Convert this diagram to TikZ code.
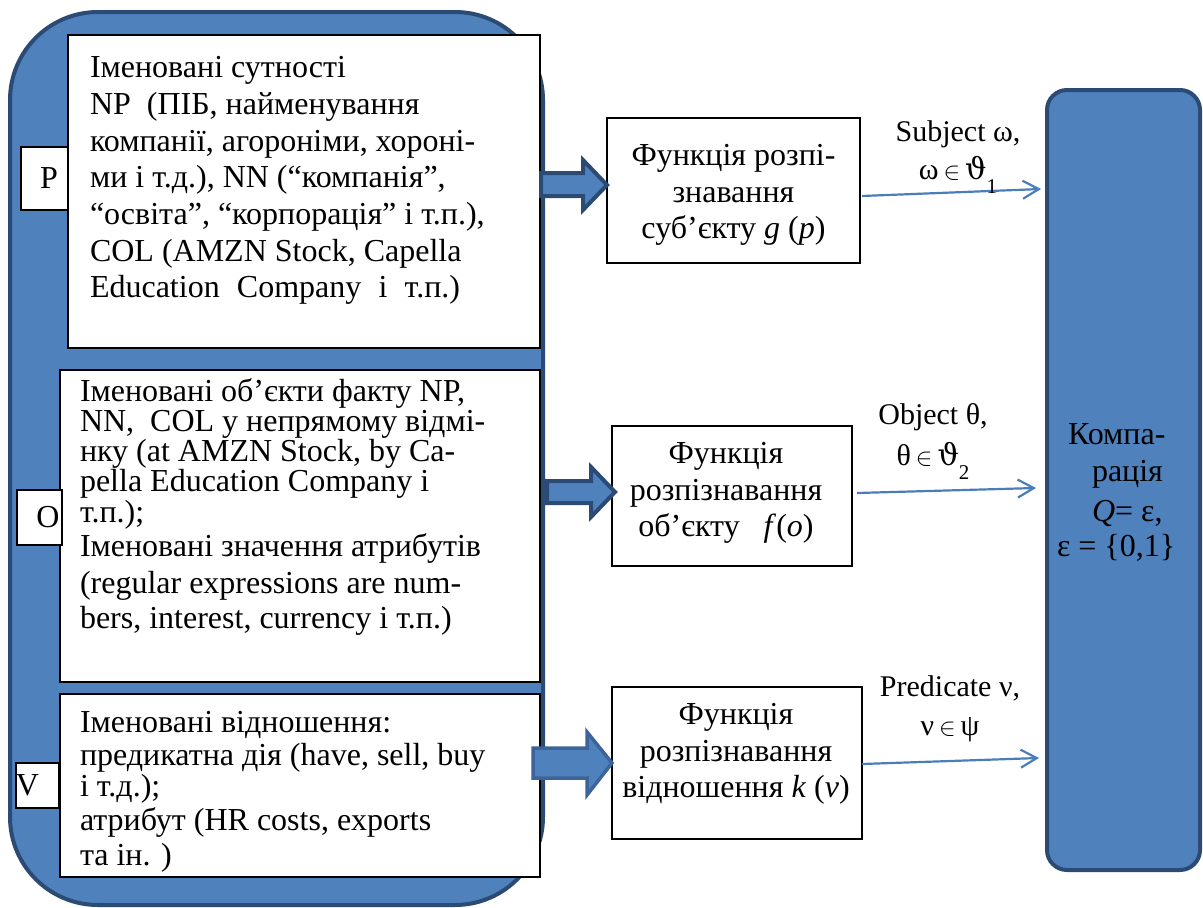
\documentclass[tikz,border=0pt]{standalone}
\usepackage{fontspec}
\setmainfont{Liberation Serif}
\newfontfamily\symf{DejaVu Serif}
\usetikzlibrary{arrows.meta}
\definecolor{bfill}{HTML}{4F81BD}
\definecolor{bline}{HTML}{2B4A74}
\definecolor{vline}{HTML}{3D649A}
\definecolor{aline}{HTML}{4A7EBB}
\begin{document}
\begin{tikzpicture}[x=1pt,y=-1pt,
  every node/.style={inner sep=0pt, outer sep=0pt},
  txt/.style={font=\fontsize{32}{36.7}\selectfont, align=left, anchor=north west},
  ctxt/.style={font=\fontsize{32}{36.5}\selectfont, align=center},
  wbox/.style={draw=black, line width=1.5pt, fill=white, anchor=north west},
  lab/.style={draw=black, line width=1.2pt, fill=white, font=\fontsize{32}{36}\selectfont},
  bigblue/.style={draw=bline, line width=4pt, fill=bfill, anchor=north west},
  blockarrow/.style={draw=bline, line width=4pt, fill=bfill, line join=miter},
  flow/.style={draw=aline, line width=2.2pt, -{Straight Barb[length=16pt,width=18pt]}},
  alab/.style={font=\fontsize{30}{38}\selectfont, align=center}
]
\useasboundingbox (0,0) rectangle (1203,908);

% big left container
\node[bigblue, rounded corners=88pt, minimum width=533pt, minimum height=893pt] (src) at (10,12) {};

% content boxes
\node[wbox, minimum width=472pt, minimum height=313pt] (pbox) at (68,35) {};
\node[wbox, minimum width=480pt, minimum height=312pt] (obox) at (60,370) {};
\node[wbox, minimum width=480pt, minimum height=183pt] (vbox) at (60,694) {};

% letter labels
\node[lab, minimum width=47pt, minimum height=63pt] (pl) at (44.5,178.5) {\hspace*{9pt}P};
\node[lab, minimum width=45pt, minimum height=55pt] (ol) at (39.5,517.5) {\hspace*{17pt}O};
\node[lab, minimum width=43pt, minimum height=45pt] (vl) at (37.5,785.5) {V\hspace*{20pt}};

% texts of content boxes
\node[txt] (ptext) at (90,52) {\strut Іменовані сутності\\
NP\ \ (ПІБ, найменування\\
компанії, агороніми, хороні-\\
ми і т.д.), NN (“компанія”,\\
“освіта”, “корпорація” і т.п.),\\
COL (AMZN Stock, Capella\\
\makebox[370pt][s]{Education Company і т.п.)}};

\node[txt, font=\fontsize{32}{37}\selectfont] (otext) at (80,376) {\strut Іменовані об’єкти факту NP,\\[-7pt]
NN,\ \ COL у непрямому відмі-\\[-7pt]
нку (at AMZN Stock, by Ca-\\[-7pt]
pella Education Company і\\[-6pt]
т.п.);\\[-3pt]
Іменовані значення атрибутів\\
(regular expressions are num-\\[-2pt]
bers, interest, currency і т.п.)};

\node[txt, font=\fontsize{32}{37}\selectfont] (vtext) at (80,707) {\strut Іменовані відношення:\\[-4pt]
предикатна дія (have, sell, buy\\[-6pt]
і т.д.);\\[-3pt]
атрибут (HR costs, exports\\[-2pt]
та ін. )};

% function boxes
\node[wbox, minimum width=253pt, minimum height=145pt] (g) at (607,118) {};
\node[wbox, minimum width=240pt, minimum height=140pt] (f) at (612,426) {};
\node[wbox, minimum width=250pt, minimum height=152pt] (k) at (612,687) {};

\node[ctxt] (gt) at (733.5,195) {\strut Функція розпі-\\знавання\\суб’єкту \textit{g} (\textit{p})\strut};
\node[ctxt] (ft) at (726,493) {\strut Функція\\розпізнавання\\об’єкту\ \ \ \textit{f}(\textit{o})\strut};
\node[ctxt] (kt) at (736,754) {\strut Функція\\розпізнавання\\відношення \textit{k} (\textit{v})\strut};

% right box
\node[bigblue, rounded corners=20pt, minimum width=153pt, minimum height=780pt] (cmp) at (1047,90) {};
\node[txt, font=\fontsize{32}{37}\selectfont] (cmpt) at (1057,419) {\strut\hspace*{11pt}Компа-\\
\hspace*{35pt}рація\\[3pt]
\hspace*{35pt}\textit{Q}= ε,\\[-2pt]
ε = \{0,1\}};

% block arrows
\draw[blockarrow] (541,173) -- (583,173) -- (583,160) -- (607,185) -- (583,210) -- (583,196) -- (541,196) -- cycle;
\draw[blockarrow] (547,481) -- (591,481) -- (591,467) -- (615,492) -- (591,517) -- (591,503) -- (547,503) -- cycle;
\draw[blockarrow, draw=vline, line width=3.5pt] (533,748) -- (587,748) -- (587,732) -- (612,763) -- (587,795) -- (587,778) -- (533,778) -- cycle;

% thin arrows
\coordinate (s1) at (862,196); \coordinate (e1) at (1041,189);
\coordinate (s2) at (857,493); \coordinate (e2) at (1036,488);
\coordinate (s3) at (862,764); \coordinate (e3) at (1039,758);
\draw[flow] (s1) -- (e1);
\draw[flow] (s2) -- (e2);
\draw[flow] (s3) -- (e3);

% arrow labels
\node[alab] (l1) at (958,153) {\strut Subject ω,\\ ω\,$\in$\,{\symf ϑ}\raisebox{-14pt}[0pt][0pt]{\fontsize{21}{21}\selectfont 1}\strut};
\node[alab] (l2) at (933,437) {\strut Object θ,\\[3pt] θ\,$\in$\,{\symf ϑ}\raisebox{-14pt}[0pt][0pt]{\fontsize{21}{21}\selectfont 2}\strut};
\node[alab] (l3) at (950,708) {\strut Predicate ν,\\[1pt] ν\,$\in$\,ψ\strut};
\end{tikzpicture}
\end{document}
